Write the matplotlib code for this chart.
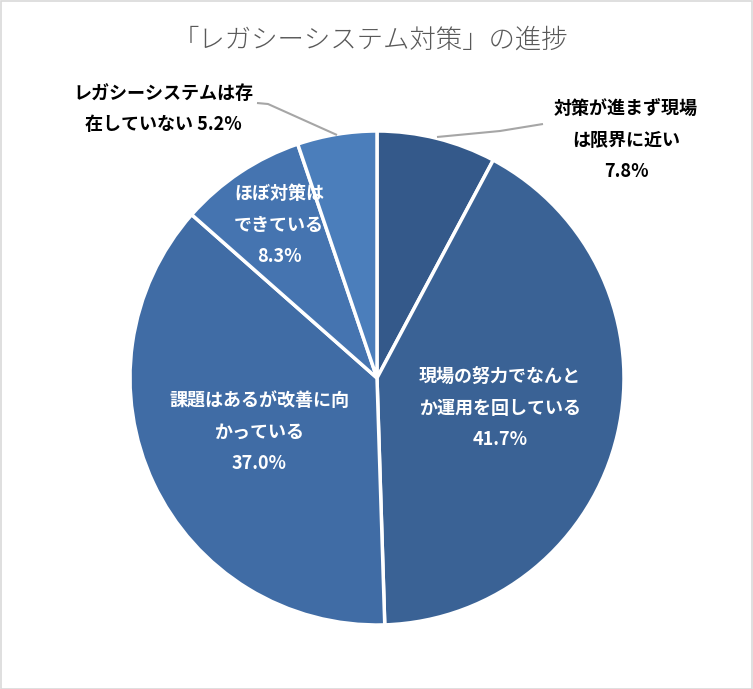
import matplotlib
matplotlib.use("Agg")
import matplotlib.pyplot as plt
from matplotlib.patches import Rectangle

plt.rcParams['font.family'] = ['Noto Sans CJK JP', 'DejaVu Sans']

title = "「レガシーシステム対策」の進捗"
categories = [
    "対策が進まず現場\nは限界に近い",
    "現場の努力でなんと\nか運用を回している",
    "課題はあるが改善に向\nかっている",
    "ほぼ対策は\nできている",
    "レガシーシステムは存\n在していない",
]
values = [7.8, 41.7, 37.0, 8.3, 5.2]
colors = ["#34598a", "#3a6295", "#406ca5", "#4574b0", "#4b7ebb"]

W, H = 753, 689
fig = plt.figure(figsize=(W / 100, H / 100), dpi=100)
ax = fig.add_axes([0, 0, 1, 1])

cx, cy, r = 377, 378, 247
def P(x, y):
    return (x, H - y)

wedges, _ = ax.pie(values, colors=colors, startangle=90, counterclock=False,
                   center=P(cx, cy), radius=r,
                   wedgeprops=dict(edgecolor="white", linewidth=2.5))
ax.set_xlim(0, W)
ax.set_ylim(0, H)
ax.set_aspect('equal')
ax.axis('off')

# label layout (pixel coords of label centre, text colour)
layout = [
    ((626, 140), "black"),
    ((500, 408), "white"),
    ((259, 432), "white"),
    ((279, 225), "white"),
    ((163, 109), "black"),
]
for (pos, col), cat, v in zip(layout, categories, values):
    sep = " " if cat.startswith("レガシー") else "\n"
    txt = f"{cat}{sep}{v:.1f}%"
    ax.text(*P(*pos), txt, ha="center", va="center", color=col,
            fontsize=13, fontweight="bold", linespacing=1.82)

# leader lines
leaders = [[(437, 137), (500, 131), (543, 124)],
           [(337, 135), (268, 104), (257, 103)]]
for pts in leaders:
    xs = [P(*p)[0] for p in pts]
    ys = [P(*p)[1] for p in pts]
    ax.plot(xs, ys, color="#a6a6a6", lw=1.5, solid_capstyle="butt")

fig.text(370 / W, 1 - 40 / H, title, ha="center", va="center",
         fontsize=19, color="#595959", fontweight="light")

fig.patches.append(Rectangle((0.5 / W, 0.5 / H), 1 - 1.5 / W, 1 - 1.5 / H,
                             transform=fig.transFigure, fill=False,
                             edgecolor="#d9d9d9", lw=1.2))

fig.savefig("out.png", dpi=100)
